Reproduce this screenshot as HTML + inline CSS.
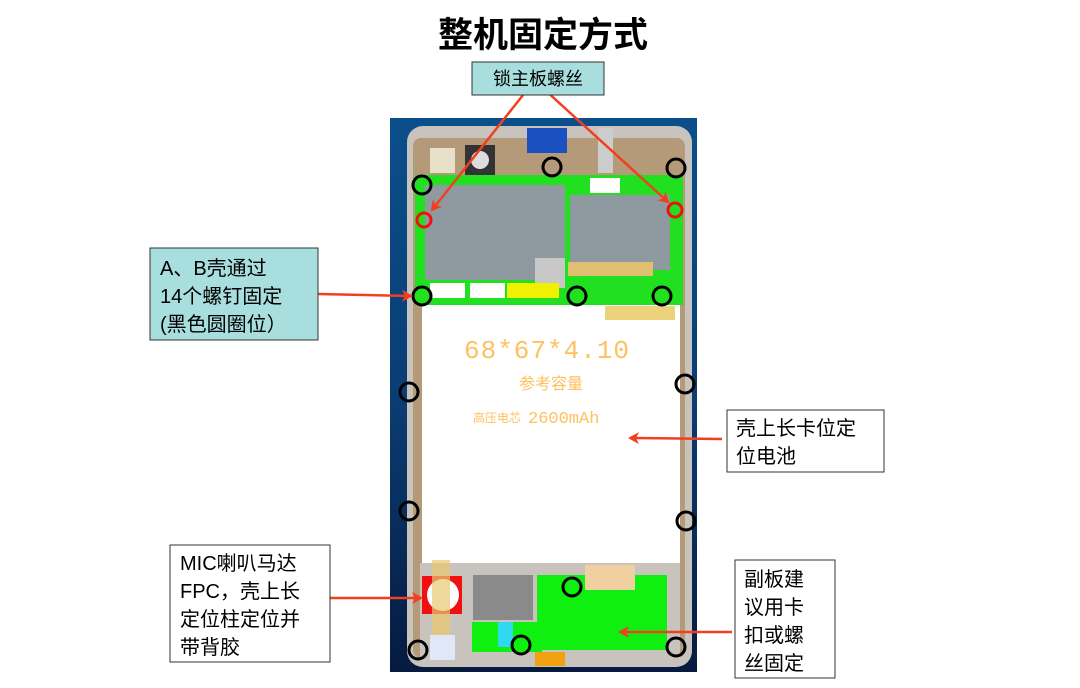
<!DOCTYPE html>
<html><head><meta charset="utf-8"><style>
html,body{margin:0;padding:0;background:#fff;width:1080px;height:688px;overflow:hidden}
svg{display:block}
text{font-family:"Liberation Sans","Noto Sans CJK SC",sans-serif}
text.mono{font-family:"Liberation Mono","DejaVu Sans Mono",monospace}
</style></head><body>
<svg width="1080" height="688" viewBox="0 0 1080 688" xmlns="http://www.w3.org/2000/svg">
<defs>
<linearGradient id="bg" x1="0" y1="0" x2="0" y2="1">
<stop offset="0" stop-color="#0b4f8a"/><stop offset="0.5" stop-color="#0a3d74"/><stop offset="1" stop-color="#061a40"/>
</linearGradient>
<marker id="ah" markerWidth="12" markerHeight="12" refX="9" refY="6" orient="auto" markerUnits="userSpaceOnUse">
<path d="M0,0 L11,6 L0,12 L3,6 Z" fill="#f04020"/></marker>
</defs>
<text x="543" y="47" text-anchor="middle" font-size="35" font-weight="bold" fill="#000">整机固定方式</text>
<!-- phone -->
<rect x="390" y="118" width="307" height="554" fill="url(#bg)"/>
<rect x="407" y="126" width="285" height="541" rx="16" fill="#c8c3bd"/>
<rect x="413" y="138" width="272" height="520" rx="8" fill="#b49a78"/>
<rect x="418" y="140" width="264" height="165" fill="#b49a78"/>
<rect x="415" y="175" width="268" height="130" fill="#20e020"/>
<rect x="425" y="185" width="140" height="95" fill="#8e9aa0"/>
<rect x="570" y="195" width="100" height="75" fill="#8e9aa0"/>
<rect x="535" y="258" width="30" height="30" fill="#c8c8c8"/>
<rect x="568" y="262" width="85" height="14" fill="#e0c070"/>
<rect x="507" y="283" width="52" height="15" fill="#f0f000"/>
<rect x="430" y="283" width="35" height="15" fill="#fff"/>
<rect x="470" y="283" width="35" height="15" fill="#fff"/>
<rect x="527" y="128" width="40" height="25" fill="#1a50c0"/>
<rect x="430" y="148" width="25" height="25" fill="#e8e0c8"/>
<rect x="465" y="145" width="30" height="30" fill="#333"/>
<circle cx="480" cy="160" r="9" fill="#ddd"/>
<rect x="598" y="128" width="15" height="45" fill="#ccc"/>
<rect x="590" y="178" width="30" height="15" fill="#fff"/>
<!-- battery -->
<rect x="422" y="305" width="258" height="258" fill="#fff"/>
<rect x="605" y="306" width="70" height="14" fill="#ecd27a"/>
<text class="mono" x="547" y="358" text-anchor="middle" font-size="26" fill="#ffc060" letter-spacing="1">68*67*4.10</text>
<text x="551" y="389" text-anchor="middle" font-size="16" fill="#ffc060">参考容量</text>
<text x="473" y="422" font-size="12" fill="#ffc060">高压电芯</text>
<text class="mono" x="528" y="423" font-size="17" fill="#ffc060">2600mAh</text>
<!-- bottom board -->
<rect x="420" y="563" width="260" height="95" fill="#c8c3bd"/>
<rect x="422" y="576" width="40" height="38" fill="#f01010"/>
<circle cx="443" cy="595" r="16" fill="#fff"/>
<rect x="432" y="560" width="18" height="75" fill="#e8c870" opacity="0.7"/>
<rect x="430" y="635" width="25" height="25" fill="#e0e8f8"/>
<rect x="473" y="575" width="60" height="45" fill="#8a8a8a"/>
<rect x="537" y="575" width="130" height="75" fill="#10f010"/>
<rect x="472" y="622" width="70" height="30" fill="#10f010"/>
<rect x="498" y="622" width="15" height="25" fill="#30d8f0"/>
<rect x="585" y="565" width="50" height="25" fill="#f0d0a0"/>
<rect x="535" y="652" width="30" height="14" fill="#f0a010"/>
<g fill="none" stroke="#000" stroke-width="3">
<circle cx="422" cy="185" r="9"/><circle cx="552" cy="167" r="9"/><circle cx="676" cy="168" r="9"/>
<circle cx="422" cy="296" r="9"/><circle cx="577" cy="296" r="9"/><circle cx="662" cy="296" r="9"/>
<circle cx="409" cy="392" r="9"/><circle cx="685" cy="384" r="9"/>
<circle cx="409" cy="511" r="9"/><circle cx="686" cy="521" r="9"/>
<circle cx="572" cy="587" r="9"/><circle cx="521" cy="645" r="9"/>
<circle cx="418" cy="650" r="9"/><circle cx="676" cy="647" r="9"/>
</g>
<g fill="none" stroke="#f01010" stroke-width="3"><circle cx="424" cy="220" r="7"/><circle cx="675" cy="210" r="7"/></g>
<!-- arrows -->
<g stroke="#f04020" stroke-width="2.5" marker-end="url(#ah)">
<line x1="527" y1="90" x2="432" y2="210"/>
<line x1="545" y1="90" x2="668" y2="202"/>
<line x1="318" y1="294" x2="411" y2="296"/>
<line x1="722" y1="439" x2="630" y2="438"/>
<line x1="330" y1="598" x2="421" y2="598"/>
<line x1="732" y1="632" x2="620" y2="632"/>
</g>
<!-- boxes -->
<rect x="472" y="62" width="132" height="33" fill="#a9dede" stroke="#333" stroke-width="1"/>
<text x="538" y="85" text-anchor="middle" font-size="18" fill="#000">锁主板螺丝</text>
<rect x="150" y="248" width="168" height="92" fill="#a9dede" stroke="#333" stroke-width="1"/>
<g font-size="20" fill="#000"><text x="160" y="275">A、B壳通过</text><text x="160" y="303">14个螺钉固定</text><text x="160" y="331">(黑色圆圈位）</text></g>
<rect x="727" y="410" width="157" height="62" fill="#fff" stroke="#333" stroke-width="1"/>
<g font-size="20" fill="#000"><text x="736" y="435">壳上长卡位定</text><text x="736" y="463">位电池</text></g>
<rect x="170" y="545" width="160" height="117" fill="#fff" stroke="#333" stroke-width="1"/>
<g font-size="20" fill="#000"><text x="180" y="570">MIC喇叭马达</text><text x="180" y="598">FPC，壳上长</text><text x="180" y="626">定位柱定位并</text><text x="180" y="654">带背胶</text></g>
<rect x="735" y="560" width="100" height="118" fill="#fff" stroke="#333" stroke-width="1"/>
<g font-size="20" fill="#000"><text x="744" y="586">副板建</text><text x="744" y="614">议用卡</text><text x="744" y="642">扣或螺</text><text x="744" y="670">丝固定</text></g>
</svg>
</body></html>
